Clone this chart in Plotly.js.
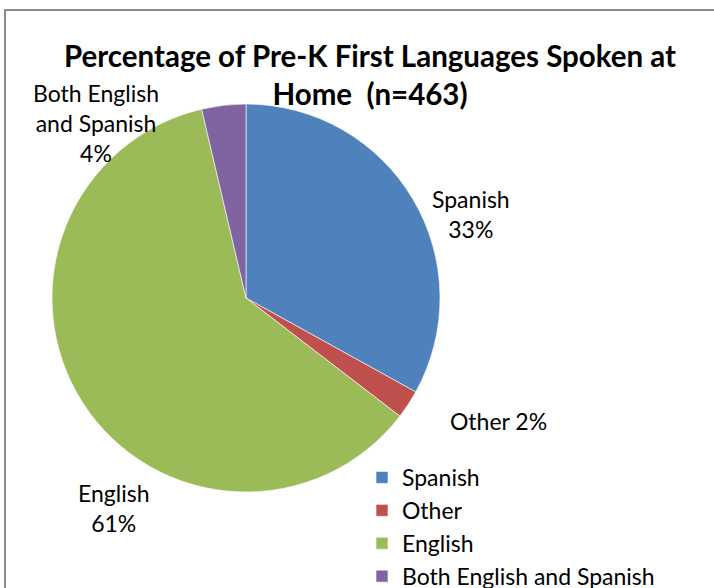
<!DOCTYPE html>
<html>
<head>
<meta charset="utf-8">
<script src="https://cdn.plot.ly/plotly-3.0.1.min.js"></script>
<style>
  html, body { margin: 0; padding: 0; background: #fff; }
  #wrap { position: relative; width: 714px; height: 588px; overflow: hidden; }
  #chart { position: absolute; left: 0; top: 0; width: 714px; height: 588px; }
  #frame { position: absolute; left: 4px; top: 9px; width: 760px; height: 640px;
           border-top: 2px solid #8c8c8c; border-left: 2px solid #8c8c8c; pointer-events: none; }
</style>
</head>
<body>
<div id="wrap">
  <div id="chart"></div>
  <div id="frame"></div>
</div>
<script>
const categories = ["Spanish", "Other", "English", "Both English and Spanish"];
const counts = [153, 11, 282, 17];
const labelTexts = ["Spanish", "Other", "English", "Both English<br>and Spanish"];
const colors = ["#4F81BD", "#C0504D", "#9BBB59", "#8064A2"];

const total = counts.reduce((a, b) => a + b, 0);
const pct = counts.map(v => Math.round(100 * v / total) + "%");

const FONT = "Lato, 'Open Sans', sans-serif";

// label anchor positions (paper coords)
const labelPos = [
  {x: 471 / 714, y: 1 - 214 / 588, sep: "<br>"},
  {x: 498 / 714, y: 1 - 421 / 588, sep: " "},
  {x: 114 / 714, y: 1 - 508 / 588, sep: "<br>"},
  {x: 96 / 714, y: 1 - 123 / 588, sep: "<br>"}
];

const annotations = categories.map((c, i) => ({
  text: labelTexts[i] + labelPos[i].sep + pct[i],
  x: labelPos[i].x, y: labelPos[i].y, xref: "paper", yref: "paper",
  xanchor: "center", yanchor: "middle", showarrow: false, align: "center",
  font: {family: FONT, size: 23, color: "#000"}
}));

const trace = {
  type: "pie",
  labels: categories,
  values: counts,
  sort: false,
  direction: "clockwise",
  rotation: 0,
  marker: {colors: colors, line: {color: "#ffffff", width: 0.6}},
  textinfo: "none",
  hoverinfo: "label+percent",
  domain: {x: [52 / 714, 440 / 714], y: [1 - 492 / 588, 1 - 104 / 588]}
};

const layout = {
  width: 714, height: 588,
  margin: {l: 0, r: 0, t: 0, b: 0, autoexpand: false},
  paper_bgcolor: "#ffffff",
  title: {
    text: "<b>Percentage of Pre-K First Languages Spoken at<br>Home  (n=463)</b>",
    x: 370 / 714, xanchor: "center", xref: "container",
    y: 1 - 67 / 588, yanchor: "top", yref: "container",
    font: {family: FONT, size: 29.5, color: "#000"}
  },
  showlegend: true,
  legend: {
    x: 362 / 714, xanchor: "left", y: 1 - 456 / 588, yanchor: "top",
    font: {family: FONT, size: 23, color: "#000"},
    itemwidth: 30, tracegroupgap: 0, bgcolor: "rgba(0,0,0,0)"
  },
  annotations: annotations
};

Plotly.newPlot("chart", [trace], layout, {displayModeBar: false, staticPlot: true});
</script>
</body>
</html>
